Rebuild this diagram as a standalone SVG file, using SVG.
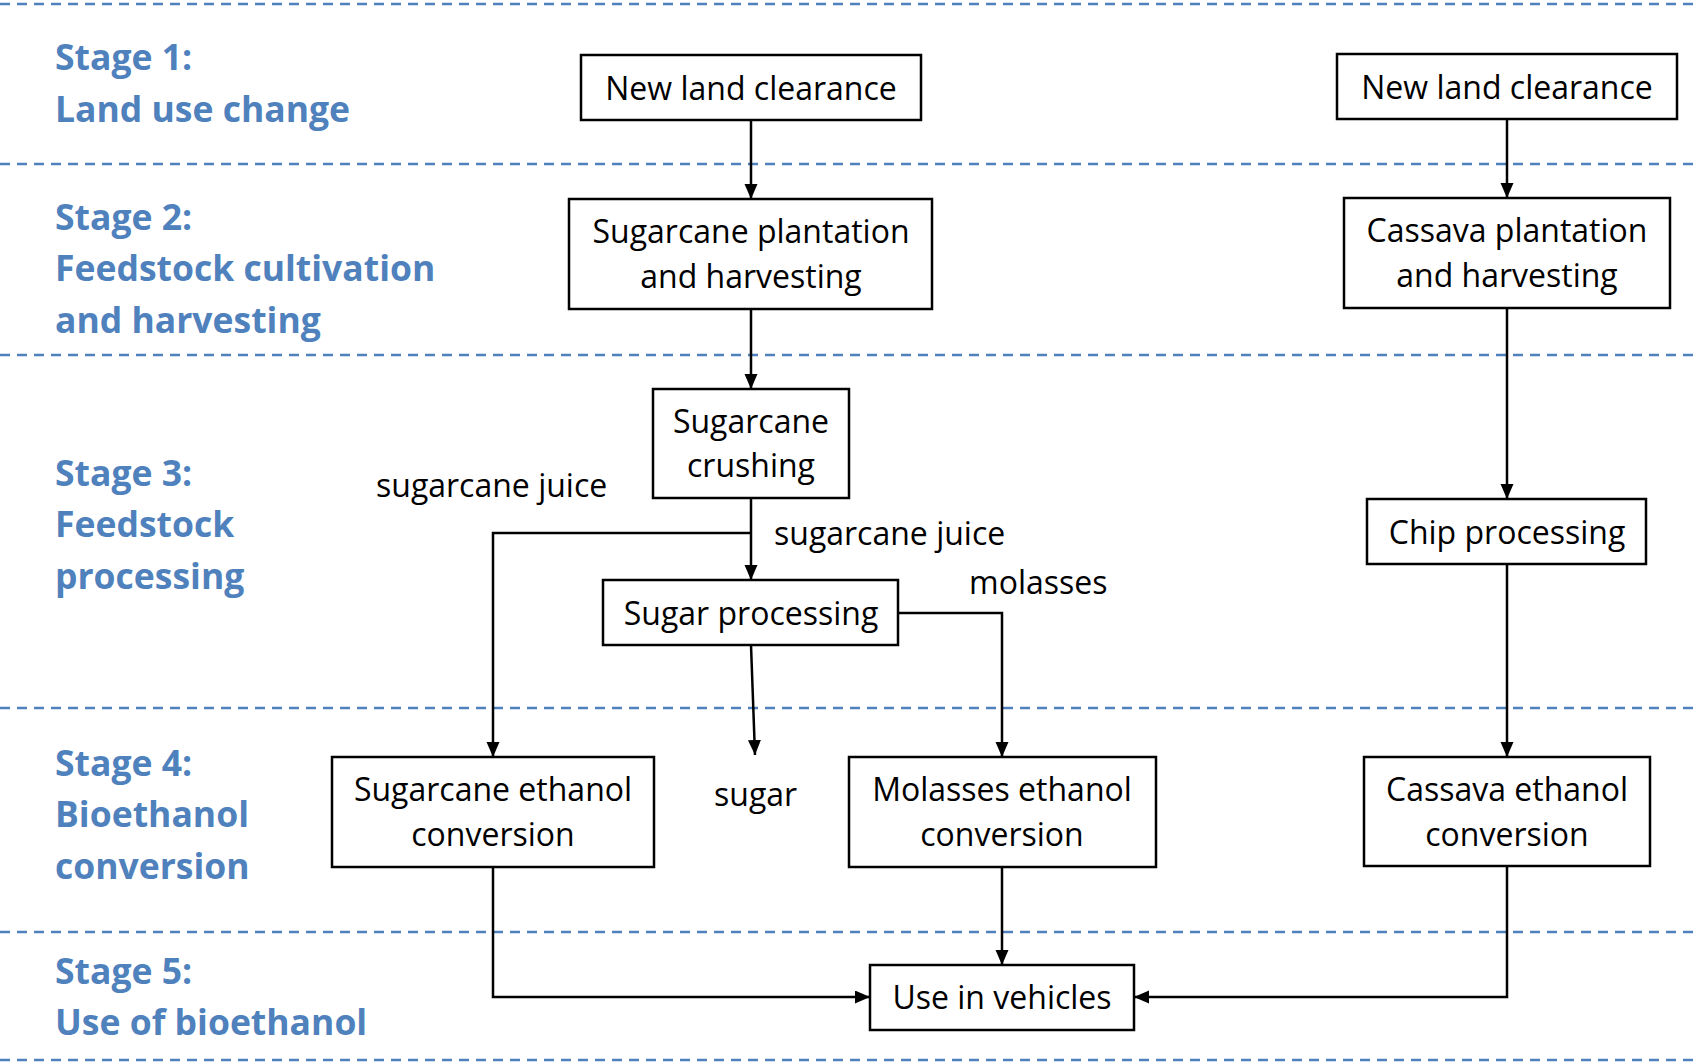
<svg xmlns="http://www.w3.org/2000/svg" width="1695" height="1064" viewBox="0 0 1695 1064">
<style>
.sep{stroke:#4f81bd;stroke-width:2.5;stroke-dasharray:10 7;fill:none}
.stage{font-family:"Open Sans","Liberation Sans",sans-serif;font-weight:bold;font-size:35.5px;fill:#4f81bd}
.box{fill:#fff;stroke:#000;stroke-width:2.5}
.t{font-family:"Open Sans","Liberation Sans",sans-serif;font-size:32px;fill:#000}
.c{text-anchor:middle}
.con{fill:none;stroke:#000;stroke-width:2.5;marker-end:url(#ah)}
</style>
<defs>
<marker id="ah" markerUnits="userSpaceOnUse" markerWidth="16" markerHeight="14" refX="15" refY="6.5" orient="auto">
<path d="M0,0 L15,6.5 L0,13 z" fill="#000"/>
</marker>
</defs>
<rect width="1695" height="1064" fill="#fff"/>
<g id="separators">
<line class="sep" x1="0" y1="4" x2="1695" y2="4"/>
<line class="sep" x1="0" y1="164" x2="1695" y2="164"/>
<line class="sep" x1="0" y1="355" x2="1695" y2="355"/>
<line class="sep" x1="0" y1="708" x2="1695" y2="708"/>
<line class="sep" x1="0" y1="932" x2="1695" y2="932"/>
<line class="sep" x1="0" y1="1060" x2="1695" y2="1060"/>
</g>
<g id="stage-labels">
<text class="stage" x="55" y="70">Stage 1:</text>
<text class="stage" x="55" y="122">Land use change</text>
<text class="stage" x="55" y="230">Stage 2:</text>
<text class="stage" x="55" y="281">Feedstock cultivation</text>
<text class="stage" x="55" y="333">and harvesting</text>
<text class="stage" x="55" y="486">Stage 3:</text>
<text class="stage" x="55" y="537">Feedstock</text>
<text class="stage" x="55" y="589">processing</text>
<text class="stage" x="55" y="776">Stage 4:</text>
<text class="stage" x="55" y="827">Bioethanol</text>
<text class="stage" x="55" y="879">conversion</text>
<text class="stage" x="55" y="984">Stage 5:</text>
<text class="stage" x="55" y="1035">Use of bioethanol</text>
</g>
<g id="connectors">
<line class="con" x1="751" y1="120" x2="751" y2="199"/>
<line class="con" x1="751" y1="309" x2="751" y2="389"/>
<line class="con" x1="751" y1="498" x2="751" y2="580"/>
<polyline class="con" points="751,533 493,533 493,757"/>
<polyline class="con" points="898,613 1002,613 1002,757"/>
<line class="con" x1="751" y1="645" x2="755" y2="755"/>
<line class="con" x1="1002" y1="867" x2="1002" y2="965"/>
<polyline class="con" points="493,867 493,997 870,997"/>
<polyline class="con" points="1507,866 1507,997 1134,997"/>
<line class="con" x1="1507" y1="119" x2="1507" y2="198"/>
<line class="con" x1="1507" y1="308" x2="1507" y2="499"/>
<line class="con" x1="1507" y1="564" x2="1507" y2="757"/>
</g>
<g id="edge-labels">
<text class="t" x="376" y="497">sugarcane juice</text>
<text class="t" x="774" y="545">sugarcane juice</text>
<text class="t" x="969" y="594">molasses</text>
<text class="t" x="714" y="806">sugar</text>
</g>
<g id="n-land1">
<rect class="box" x="581" y="55" width="340" height="65"/>
<text class="t c" x="751" y="100">New land clearance</text>
</g>
<g id="n-sugarcane-plantation">
<rect class="box" x="569" y="199" width="363" height="110"/>
<text class="t c" x="751" y="243">Sugarcane plantation</text>
<text class="t c" x="751" y="288">and harvesting</text>
</g>
<g id="n-crushing">
<rect class="box" x="653" y="389" width="196" height="109"/>
<text class="t c" x="751" y="433">Sugarcane</text>
<text class="t c" x="751" y="477">crushing</text>
</g>
<g id="n-sugar-processing">
<rect class="box" x="603" y="580" width="295" height="65"/>
<text class="t c" x="751" y="625">Sugar processing</text>
</g>
<g id="n-sugarcane-ethanol">
<rect class="box" x="332" y="757" width="322" height="110"/>
<text class="t c" x="493" y="801">Sugarcane ethanol</text>
<text class="t c" x="493" y="846">conversion</text>
</g>
<g id="n-molasses-ethanol">
<rect class="box" x="849" y="757" width="307" height="110"/>
<text class="t c" x="1002" y="801">Molasses ethanol</text>
<text class="t c" x="1002" y="846">conversion</text>
</g>
<g id="n-vehicles">
<rect class="box" x="870" y="965" width="264" height="65"/>
<text class="t c" x="1002" y="1009">Use in vehicles</text>
</g>
<g id="n-land2">
<rect class="box" x="1337" y="54" width="340" height="65"/>
<text class="t c" x="1507" y="99">New land clearance</text>
</g>
<g id="n-cassava-plantation">
<rect class="box" x="1344" y="198" width="326" height="110"/>
<text class="t c" x="1507" y="242">Cassava plantation</text>
<text class="t c" x="1507" y="287">and harvesting</text>
</g>
<g id="n-chip">
<rect class="box" x="1367" y="499" width="279" height="65"/>
<text class="t c" x="1507" y="544">Chip processing</text>
</g>
<g id="n-cassava-ethanol">
<rect class="box" x="1364" y="757" width="286" height="109"/>
<text class="t c" x="1507" y="801">Cassava ethanol</text>
<text class="t c" x="1507" y="846">conversion</text>
</g>
</svg>
